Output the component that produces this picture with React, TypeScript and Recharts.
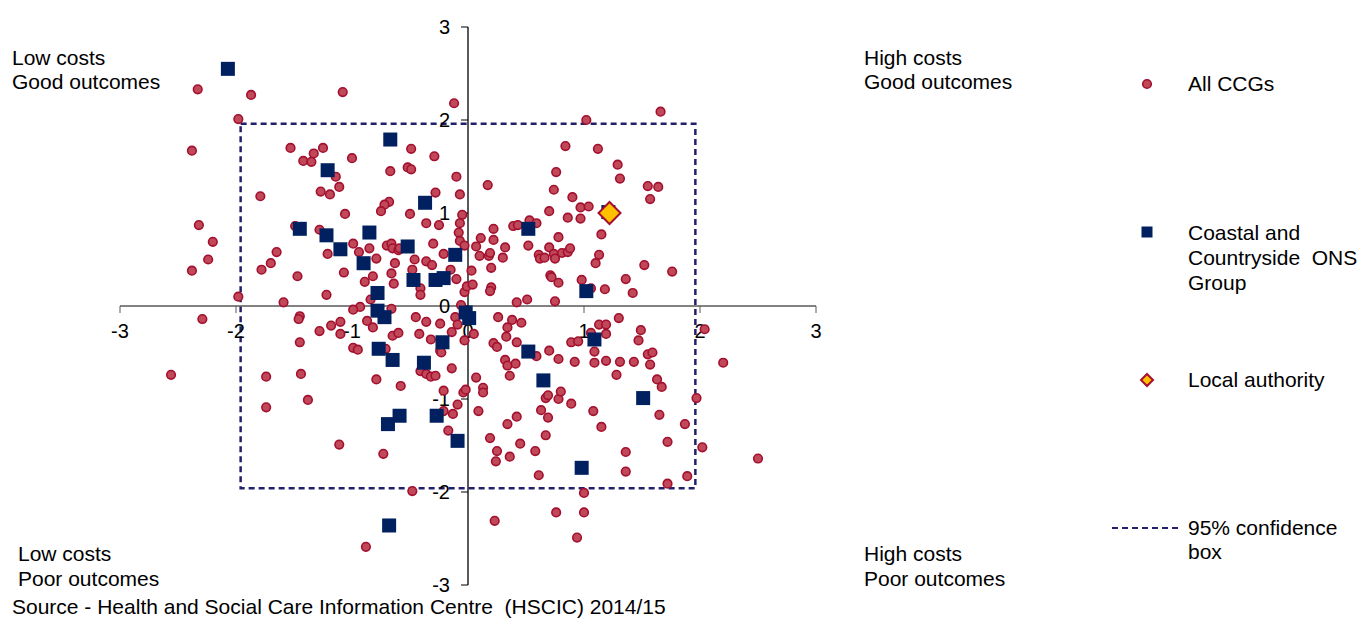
import { Legend, ReferenceArea, ReferenceLine, Scatter, ScatterChart, XAxis, YAxis } from 'recharts';

// z-scores: [cost, outcome]
const ccgPoints: [number, number][] = [
  [-2.33, 2.33], [-1.87, 2.27], [-1.08, 2.3], [-0.12, 2.18], [-1.98, 2.01], [-2.38, 1.67], [-1.53, 1.7],
  [-1.42, 1.56], [-1.35, 1.55], [-1.33, 1.64], [-1.25, 1.7], [-1.0, 1.59], [-0.49, 1.69], [-0.29, 1.61],
  [-0.67, 1.45], [-0.52, 1.49], [-0.49, 1.47], [-0.1, 1.39], [-1.14, 1.39], [-1.11, 1.28], [-1.27, 1.23],
  [-1.19, 1.2], [-1.79, 1.18], [-0.28, 1.22], [-0.07, 1.2], [-0.68, 1.12], [-0.72, 1.09], [-0.75, 1.02],
  [-0.5, 0.99], [-1.06, 0.99], [-2.32, 0.87], [-1.49, 0.86], [-1.28, 0.82], [-0.36, 0.89], [-0.25, 0.87],
  [-0.05, 0.98], [-0.07, 0.89], [-0.08, 0.79], [-0.07, 0.7], [-0.03, 0.65], [-2.2, 0.69], [-2.24, 0.5],
  [-2.38, 0.38], [-1.78, 0.39], [-1.7, 0.46], [-1.65, 0.58], [-1.47, 0.32], [-1.21, 0.56], [-1.07, 0.36],
  [-0.99, 0.67], [-0.94, 0.58], [-0.85, 0.62], [-0.79, 0.51], [-0.7, 0.65], [-0.66, 0.67], [-0.65, 0.62],
  [-0.6, 0.6], [-0.59, 0.62], [-0.63, 0.46], [-0.46, 0.5], [-0.48, 0.39], [-0.36, 0.48], [-0.31, 0.44],
  [-0.3, 0.67], [-0.21, 0.56], [-0.15, 0.39], [-0.1, 0.29], [-0.66, 0.35], [-0.82, 0.32], [-0.89, 0.26],
  [-0.64, 0.24], [-0.41, 0.19], [-0.41, 0.12], [-1.22, 0.12], [-1.59, 0.04], [-1.98, 0.1], [-0.84, 0.07],
  [-0.93, -0.01], [-0.99, -0.04], [-0.66, -0.03], [-0.03, 0.15], [-0.01, 0.21], [-0.06, 0.01], [0.03, 0.38],
  [0.04, 0.23],
  [1.66, 2.09], [1.02, 2.0], [0.84, 1.72], [1.12, 1.69], [1.29, 1.52], [1.31, 1.37], [0.76, 1.44],
  [0.74, 1.25], [0.9, 1.17], [1.55, 1.29], [1.64, 1.28], [1.57, 1.15], [0.17, 1.3], [0.97, 1.06],
  [1.04, 1.07], [0.7, 1.02], [0.86, 0.95], [0.97, 0.94], [1.15, 0.77], [0.22, 0.83], [0.39, 0.86],
  [0.43, 0.87], [0.53, 0.92], [0.59, 0.89], [0.22, 0.71], [0.11, 0.73], [0.07, 0.64], [0.32, 0.63],
  [0.52, 0.65], [0.78, 0.74], [0.1, 0.54], [0.18, 0.54], [0.19, 0.57], [0.3, 0.52], [0.61, 0.55],
  [0.62, 0.51], [0.66, 0.52], [0.7, 0.63], [0.74, 0.56], [0.75, 0.51], [0.81, 0.57], [0.86, 0.58],
  [0.88, 0.62], [1.13, 0.55], [1.1, 0.46], [1.52, 0.44], [1.76, 0.37], [0.2, 0.41], [0.71, 0.33],
  [0.72, 0.31], [0.78, 0.25], [0.98, 0.28], [1.06, 0.19], [1.18, 0.18], [1.36, 0.29], [1.42, 0.14],
  [0.2, 0.2], [0.19, 0.16], [0.42, 0.04], [0.51, 0.07], [0.75, 0.05],
  [-2.29, -0.14], [-1.45, -0.11], [-1.46, -0.14], [-1.28, -0.27], [-1.18, -0.21], [-1.1, -0.17],
  [-1.1, -0.3], [-1.45, -0.39], [-0.87, -0.16], [-0.82, -0.23], [-0.65, -0.32], [-0.6, -0.29],
  [-0.99, -0.45], [-0.95, -0.47], [-0.71, -0.46], [-0.45, -0.12], [-0.36, -0.17], [-0.24, -0.19],
  [-0.42, -0.3], [-0.32, -0.36], [-0.24, -0.48], [-0.23, -0.5], [-0.14, -0.28], [-0.11, -0.12],
  [-0.09, -0.2], [-0.03, -0.37], [-0.14, -0.67], [-0.41, -0.7], [-0.36, -0.73], [-0.32, -0.76],
  [-0.28, -0.75], [-2.56, -0.74], [-1.74, -0.76], [-1.44, -0.73], [-1.38, -1.01], [-1.74, -1.09],
  [-0.79, -0.79], [-0.58, -0.86], [-0.21, -0.91], [-0.04, -0.93], [-0.02, -0.9], [-0.21, -1.13],
  [-0.13, -1.16], [-0.09, -1.06], [-0.17, -1.34], [-1.11, -1.49], [-0.73, -1.59], [-0.48, -1.99],
  [-0.88, -2.59],
  [0.26, -0.12], [0.38, -0.15], [0.46, -0.18], [0.34, -0.23], [0.33, -0.33], [0.42, -0.39], [0.22, -0.4],
  [0.25, -0.44], [0.05, -0.3], [0.59, -0.54], [0.7, -0.48], [0.78, -0.57], [0.32, -0.58], [0.34, -0.64],
  [0.41, -0.62], [0.36, -0.75], [0.07, -0.77], [0.13, -0.88], [0.13, -0.93], [0.67, -0.99], [0.69, -0.96],
  [0.78, -1.0], [0.8, -0.92], [0.89, -1.05], [0.09, -1.13], [0.63, -1.12], [0.69, -1.2], [0.42, -1.19],
  [0.34, -1.27], [0.19, -1.42], [0.45, -1.48], [0.67, -1.39], [0.58, -1.56], [0.25, -1.56], [0.24, -1.67],
  [0.36, -1.62], [0.61, -1.82], [0.89, -0.39], [0.95, -0.38], [1.06, -0.29], [1.13, -0.2], [1.19, -0.2],
  [1.19, -0.3], [1.3, -0.13], [1.49, -0.26], [1.47, -0.37], [1.09, -0.49], [0.92, -0.6], [1.09, -0.61],
  [1.19, -0.59], [1.31, -0.6], [1.43, -0.6], [1.55, -0.52], [1.59, -0.5], [1.57, -0.63], [1.28, -0.74],
  [1.63, -0.79], [1.67, -0.87], [2.04, -0.25], [2.2, -0.61], [1.97, -0.99], [2.02, -1.52], [2.5, -1.64],
  [1.08, -1.13], [1.15, -1.3], [1.65, -1.17], [1.87, -1.27], [1.72, -1.46], [1.36, -1.57], [1.36, -1.78],
  [1.89, -1.83], [1.72, -1.91], [1.0, -2.01], [0.76, -2.22], [1.0, -2.22], [0.23, -2.31], [0.94, -2.49],
];

const groupPoints: [number, number][] = [
  [-2.07, 2.55], [-0.67, 1.79], [-1.21, 1.46], [-0.37, 1.11], [-1.45, 0.83], [-1.22, 0.76], [-1.1, 0.61],
  [-0.85, 0.79], [-0.9, 0.46], [-0.52, 0.64], [-0.11, 0.55], [-0.47, 0.28], [-0.28, 0.28], [-0.21, 0.3],
  [-0.78, 0.14], [-0.78, -0.05], [-0.72, -0.12], [-0.77, -0.46], [-0.65, -0.58], [-0.38, -0.61],
  [-0.22, -0.39], [-0.02, -0.07], [0.01, -0.13], [0.52, 0.83], [1.21, 1.01], [1.02, 0.16], [1.09, -0.36],
  [0.52, -0.49], [0.65, -0.8], [1.51, -0.99], [0.98, -1.74], [-0.59, -1.18], [-0.69, -1.27], [-0.27, -1.18],
  [-0.09, -1.45], [-0.68, -2.36],
];

const localAuthority: [number, number][] = [[1.22, 1.0]];

const axisTicks = [-3, -2, -1, 0, 1, 2, 3];
const confidenceLimit = 1.96;

const toRows = (pts: [number, number][]) => pts.map(([x, y]) => ({ x, y }));
const xTickRows = axisTicks.map((x) => ({ x, y: 0 }));
const yTickRows = axisTicks.map((y) => ({ x: 0, y }));

const FONT = 'Arial, "Liberation Sans", sans-serif';
const RED_FILL = '#C04858';
const RED_EDGE = '#A3102F';
const NAVY = '#002060';
const GOLD = '#FFC000';
const BOX = '#23206B';

const Dot = (p: any) => (
  <circle cx={p.cx} cy={p.cy} r={4.3} fill={RED_FILL} stroke={RED_EDGE} strokeWidth={1.6} />
);
const Square = (p: any) => <rect x={p.cx - 7} y={p.cy - 7} width={14} height={14} fill={NAVY} />;
const Diamond = (p: any) => (
  <polygon
    points={`${p.cx},${p.cy - 11} ${p.cx + 11},${p.cy} ${p.cx},${p.cy + 11} ${p.cx - 11},${p.cy}`}
    fill={GOLD}
    stroke={RED_EDGE}
    strokeWidth={2}
  />
);
const XTick = (p: any) => (
  <g>
    <line x1={p.cx} y1={p.cy} x2={p.cx} y2={p.cy + 7} stroke="#595959" />
    <text x={p.cx} y={p.cy + 32} textAnchor="middle" fontSize={20} fontFamily={FONT} fill="#000">
      {p.payload.x}
    </text>
  </g>
);
const YTick = (p: any) => (
  <g>
    <line x1={p.cx - 7} y1={p.cy} x2={p.cx} y2={p.cy} stroke="#000" />
    <text x={p.cx - 18} y={p.cy + 7} textAnchor="end" fontSize={20} fontFamily={FONT} fill="#000">
      {p.payload.y}
    </text>
  </g>
);

const textStyle = { position: 'absolute' as const, fontFamily: FONT, fontSize: 21, color: '#000', whiteSpace: 'pre' as const };

function LegendBox() {
  return (
    <div style={{ position: 'relative', width: 261, height: 520 }}>
      <svg width={100} height={520} style={{ position: 'absolute', left: 0, top: 0 }}>
        <circle cx={47} cy={34} r={4.3} fill={RED_FILL} stroke={RED_EDGE} strokeWidth={1.6} />
        <rect x={41.5} y={176.5} width={11} height={11} fill={NAVY} />
        <polygon points="47,324 53,330 47,336 41,330" fill={GOLD} stroke={RED_EDGE} strokeWidth={2} />
        <line x1={12} y1={478} x2={80} y2={478} stroke={BOX} strokeWidth={2} strokeDasharray="6 4" />
      </svg>
      <div style={{ ...textStyle, left: 88, top: 22, lineHeight: '24px' }}>All CCGs</div>
      <div style={{ ...textStyle, left: 88, top: 170, lineHeight: '25px' }}>
        {'Coastal and\nCountryside  ONS\nGroup'}
      </div>
      <div style={{ ...textStyle, left: 88, top: 318, lineHeight: '24px' }}>Local authority</div>
      <div style={{ ...textStyle, left: 88, top: 466, lineHeight: '24px' }}>{'95% confidence\nbox'}</div>
    </div>
  );
}

export default function App() {
  return (
    <div style={{ position: 'absolute', left: 0, top: 0, width: 1361, height: 620, background: '#fff' }}>
      <ScatterChart width={1361} height={620} margin={{ top: 27, right: 545, bottom: 35, left: 120 }}>
        <XAxis type="number" dataKey="x" domain={[-3, 3]} hide />
        <YAxis type="number" dataKey="y" domain={[-3, 3]} hide />
        <ReferenceArea
          x1={-confidenceLimit}
          x2={confidenceLimit}
          y1={-confidenceLimit}
          y2={confidenceLimit}
          fill="none"
          fillOpacity={0}
          stroke={BOX}
          strokeWidth={2.5}
          strokeDasharray="6 4"
        />
        <ReferenceLine y={0} stroke="#595959" strokeWidth={1.3} />
        <ReferenceLine x={0} stroke="#000" strokeWidth={1.3} />
        <Scatter data={xTickRows} shape={XTick} legendType="none" isAnimationActive={false} />
        <Scatter data={yTickRows} shape={YTick} legendType="none" isAnimationActive={false} />
        <Scatter name="All CCGs" data={toRows(ccgPoints)} shape={Dot} isAnimationActive={false} />
        <Scatter
          name="Coastal and Countryside ONS Group"
          data={toRows(groupPoints)}
          shape={Square}
          isAnimationActive={false}
        />
        <Scatter name="Local authority" data={toRows(localAuthority)} shape={Diamond} isAnimationActive={false} />
        <Legend
          layout="vertical"
          align="center"
          verticalAlign="middle"
          content={() => <LegendBox />}
          wrapperStyle={{ left: 1100, top: 50, width: 261, height: 520 }}
        />
      </ScatterChart>
      <div style={{ ...textStyle, left: 12, top: 46, lineHeight: '24px' }}>{'Low costs\nGood outcomes'}</div>
      <div style={{ ...textStyle, left: 864, top: 46, lineHeight: '24px' }}>{'High costs\nGood outcomes'}</div>
      <div style={{ ...textStyle, left: 18, top: 541, lineHeight: '25px' }}>{'Low costs\nPoor outcomes'}</div>
      <div style={{ ...textStyle, left: 864, top: 541, lineHeight: '25px' }}>{'High costs\nPoor outcomes'}</div>
      <div style={{ ...textStyle, left: 12, top: 595, lineHeight: '24px', fontSize: 21 }}>
        {'Source - Health and Social Care Information Centre  (HSCIC) 2014/15'}
      </div>
    </div>
  );
}
